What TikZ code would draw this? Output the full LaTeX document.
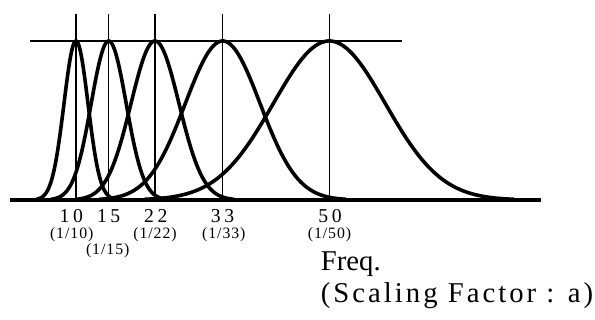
\documentclass[tikz,border=0pt]{standalone}
\usepackage{fontspec}
\setmainfont{Liberation Serif}
\begin{document}
\begin{tikzpicture}[x=1pt,y=-1pt,
  curve/.style={line width=3.6pt,line join=round},
  guide/.style={line width=1.1pt},
  axisline/.style={line width=4.4pt},
  numlab/.style={anchor=base,inner sep=0pt,font=\fontsize{19.7}{20}\selectfont\addfontfeatures{LetterSpace=18}},
  sublab/.style={anchor=base,inner sep=0pt,font=\fontsize{15.8}{16}\selectfont\addfontfeatures{LetterSpace=6}},
  bigtext/.style={anchor=base west,inner sep=0pt,font=\fontsize{28.7}{29}\selectfont}]
\useasboundingbox (0,0) rectangle (595,320);
% guide lines
\coordinate (hl) at (30,41);
\coordinate (hr) at (401.7,41);
\draw[guide] (hl) -- (hr);
\foreach \c/\n in {76/a,108.7/b,155/c,222.7/d,329.3/e}{
  \coordinate (t\n) at (\c,14);
  \coordinate (b\n) at (\c,200);
  \draw[guide] (t\n) -- (b\n);
}
% curves
\foreach \c/\s in {76/12,108.7/17.5,155/24,222.7/37.4,329.3/56}{
  \draw[curve] plot[domain=-3.3:3.3,samples=120,smooth,variable=\t] ({\c+\s*\t},{200-159*exp(-\t*\t/2)});
}
% axis
\coordinate (al) at (10,200);
\coordinate (ar) at (541,200);
\draw[axisline] (al) -- (ar);
% labels
\node[numlab] (n10) at (71.3,222.3) {10};
\node[numlab] (n15) at (108.7,222.3) {15};
\node[numlab] (n22) at (155.8,222.3) {22};
\node[numlab] (n33) at (222.5,222.3) {33};
\node[numlab] (n50) at (330,222.3) {50};
\node[sublab] (s10) at (71.7,238.3) {(1/10)};
\node[sublab] (s15) at (107.7,255) {(1/15)};
\node[sublab] (s22) at (155,238.3) {(1/22)};
\node[sublab] (s33) at (223.8,238.3) {(1/33)};
\node[sublab] (s50) at (329.5,238.3) {(1/50)};
\node[bigtext] (fq) at (320.7,270.7) {Freq.};
\node[bigtext,font=\fontsize{28.7}{29}\selectfont\addfontfeatures{LetterSpace=10.5}] (sf) at (320.7,303) {(Scaling Factor : a)};
\end{tikzpicture}
\end{document}
